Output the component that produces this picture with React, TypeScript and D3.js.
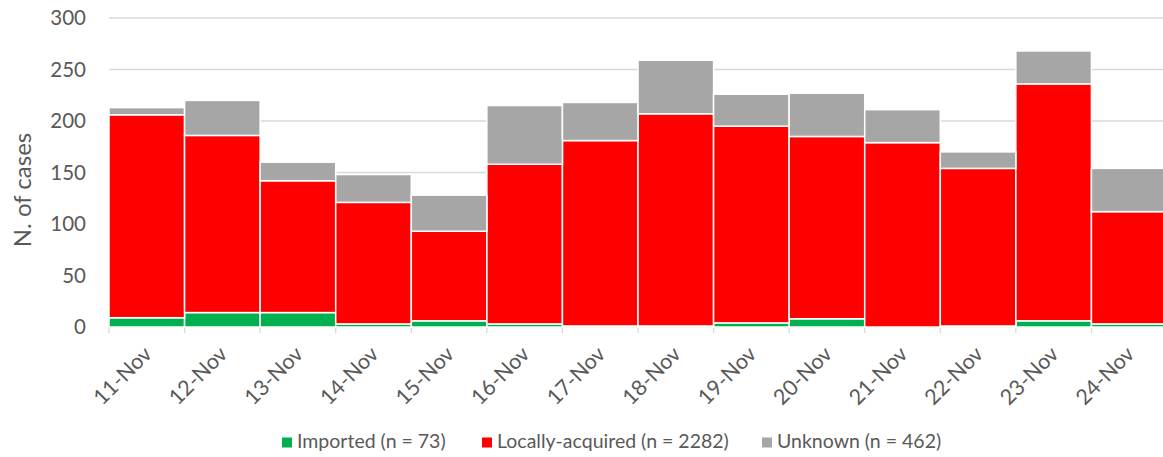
import React from "react";
import * as d3 from "d3";

const categories = ["11-Nov","12-Nov","13-Nov","14-Nov","15-Nov","16-Nov","17-Nov","18-Nov","19-Nov","20-Nov","21-Nov","22-Nov","23-Nov","24-Nov"];
const imported = [9,14,14,3,6,3,1,1,4,8,0,1,6,3];
const locallyAcquired = [197,172,128,118,87,155,180,206,191,177,179,153,230,109];
const unknown = [7,34,18,27,35,57,37,52,31,42,32,16,32,42];
const yTicks = [0,50,100,150,200,250,300];
const seriesNames = ["Imported (n = 73)","Locally-acquired (n = 2282)","Unknown (n = 462)"];
const seriesColors = ["#00b050","#ff0000","#a6a6a6"];

const W = 1163, H = 457;
const left = 109, right = 1167, top = 18, bottom = 327;
const FONT = "Lato, 'Open Sans', sans-serif";

export default function App() {
  const x = d3.scaleBand<string>().domain(categories).range([left, right]).padding(0);
  const y = d3.scaleLinear().domain([0, 300]).range([bottom, top]);
  const rows = categories.map((c, i) => ({ cat: c, imp: imported[i], loc: locallyAcquired[i], unk: unknown[i] }));
  const stack = d3.stack<any>().keys(["imp","loc","unk"])(rows);
  const legendItems = [
    { x: 282, tx: 297 },
    { x: 482, tx: 497 },
    { x: 762, tx: 777 },
  ];
  const bw = x.bandwidth();
  return (
    <svg width={W} height={H} style={{ position: "absolute", left: 0, top: 0, background: "#fff" }} fontFamily={FONT}>
      {yTicks.map(t => (
        <g key={t}>
          {t > 0 && <line x1={left} x2={W} y1={y(t)} y2={y(t)} stroke="#d9d9d9" strokeWidth={1.3} />}
          <text x={86} y={y(t)} dy="0.35em" textAnchor="end" fontSize={20.5} fill="#595959">{t}</text>
        </g>
      ))}
      <line x1={left} x2={W} y1={bottom} y2={bottom} stroke="#d9d9d9" strokeWidth={1.3} />
      {categories.concat(["__end"]).map((c, i) => {
        const xx = left + i * bw;
        return <line key={"tk" + i} x1={xx} x2={xx} y1={bottom} y2={bottom + 6} stroke="#d9d9d9" strokeWidth={1.3} />;
      })}
      {stack.map((s, si) => (
        <g key={si}>
          {s.map((d, i) => (
            <rect key={i} x={x(categories[i])!} width={bw}
              y={y(d[1])} height={Math.max(0, y(d[0]) - y(d[1]))}
              fill={seriesColors[si]} stroke="#fff" strokeWidth={1.5} />
          ))}
        </g>
      ))}
      {categories.map(c => {
        const cx = x(c)! + bw / 2 + 1;
        const cy = 350;
        return (
          <text key={c} transform={`translate(${cx},${cy}) rotate(-45)`} textAnchor="end" dy="0.35em" fontSize={21.5} fill="#595959">{c}</text>
        );
      })}
      <text transform={`translate(31,190) rotate(-90)`} textAnchor="middle" fontSize={24} fill="#595959">N. of cases</text>
      {seriesNames.map((n, i) => (
        <g key={n}>
          <rect x={legendItems[i].x} y={437.5} width={10} height={10} fill={seriesColors[i]} />
          <text x={legendItems[i].tx} y={447.5} fontSize={19.5} fill="#595959">{n}</text>
        </g>
      ))}
    </svg>
  );
}
